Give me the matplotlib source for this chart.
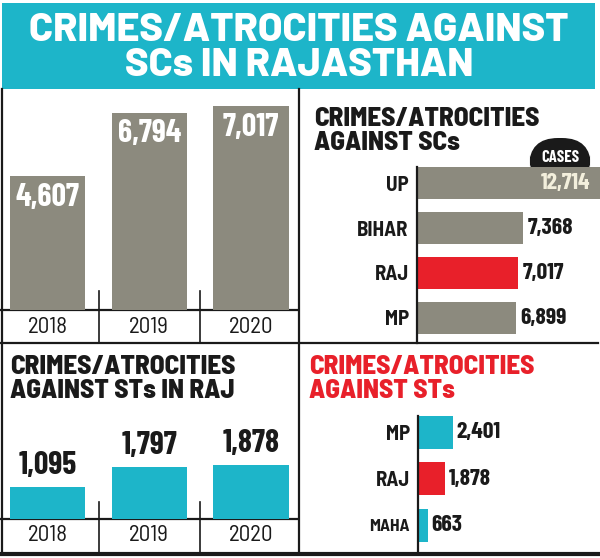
import matplotlib.pyplot as plt
from matplotlib.patches import Rectangle, FancyBboxPatch

# data
years = ['2018', '2019', '2020']
sc_raj = [4607, 6794, 7017]
st_raj = [1095, 1797, 1878]
sc_states = ['UP', 'BIHAR', 'RAJ', 'MP']
sc_cases = [12714, 7368, 7017, 6899]
st_states = ['MP', 'RAJ', 'MAHA']
st_cases = [2401, 1878, 663]

TEAL = '#1db5c9'
GREY = '#8c8a7e'
RED = '#e8202a'
INK = '#1a1a1a'

NUM = ['Barlow Condensed', 'Roboto Condensed', 'DejaVu Sans']
WIDE = ['Barlow Semi Condensed', 'Barlow Condensed', 'DejaVu Sans']
HEAD = ['Barlow', 'Barlow Semi Condensed', 'DejaVu Sans']
plt.rcParams['font.family'] = NUM

W, H = 600, 558
fig = plt.figure(figsize=(6, 5.58), dpi=100)
fig.patch.set_facecolor('white')


def add_ax(x0, y0, x1, y1, z=2):
    ax = fig.add_axes([x0 / W, 1 - y1 / H, (x1 - x0) / W, (y1 - y0) / H], zorder=z)
    ax.set_facecolor('none')
    for s in ax.spines.values():
        s.set_visible(False)
    return ax


# background / frame in pixel coords
bg = fig.add_axes([0, 0, 1, 1], zorder=0)
bg.set_xlim(0, W)
bg.set_ylim(H, 0)
bg.axis('off')

bg.add_patch(Rectangle((2, 3), 593, 86, color=TEAL, lw=0))
bg.text(299, 48, 'CRIMES/ATROCITIES AGAINST\nSCs IN RAJASTHAN', ha='center', va='center',
        color='white', fontsize=28.5, family=HEAD, fontweight=800, linespacing=0.98)

lw = 1.6
bg.plot([2, 2], [89, 553], color=INK, lw=lw)
bg.plot([299, 299], [89, 553], color=INK, lw=lw)
bg.plot([0, 598], [343, 343], color=INK, lw=lw)
bg.plot([0, 298], [310, 310], color=INK, lw=lw)
bg.plot([0, 298], [519, 519], color=INK, lw=lw)
bg.plot([0, 598], [553.5, 553.5], color=INK, lw=3)
for x in (99, 200):
    bg.plot([x, x], [291, 343], color=INK, lw=1.2)
    bg.plot([x, x], [502, 553], color=INK, lw=1.2)

# panel titles
tkw = dict(ha='left', va='top', fontsize=19.5, family=WIDE, fontweight=800, linespacing=0.98)
bg.text(314, 107, 'CRIMES/ATROCITIES\nAGAINST SCs', color=INK, **tkw)
bg.text(10, 355, 'CRIMES/ATROCITIES\nAGAINST STs IN RAJ', color=INK, **tkw)
bg.text(309, 355, 'CRIMES/ATROCITIES\nAGAINST STs', color=RED, **tkw)

# CASES tab
bg.add_patch(FancyBboxPatch((529, 138), 62, 46, boxstyle='round,pad=0,rounding_size=29',
                            color=INK, lw=0))
bg.text(560, 158, 'CASES', ha='center', va='center', color='white', fontsize=12,
        fontweight='bold')

# top left: SCs in Rajasthan by year
ax1 = add_ax(0, 90, 298, 310)
ax1.bar(range(3), sc_raj, width=0.74, color=GREY)
ax1.set_xlim(-0.467, 2.463)
ax1.set_ylim(0, 220 * 34.4)
ax1.set_yticks([])
ax1.set_xticks(range(3), years)
ax1.tick_params(axis='x', length=0, pad=5)
for t in ax1.get_xticklabels():
    t.set(family=WIDE, fontsize=16.5, color=INK)
for i, v in enumerate(sc_raj):
    ax1.annotate(f'{v:,}', (i, v), xytext=(0, -5), textcoords='offset points',
                 ha='center', va='top', color='white', fontsize=23, fontweight='bold')

# bottom left: STs in Rajasthan by year
ax3 = add_ax(0, 343, 298, 519)
ax3.bar(range(3), st_raj, width=0.74, color=TEAL)
ax3.set_xlim(-0.467, 2.463)
ax3.set_ylim(0, 176 * 34.6)
ax3.set_yticks([])
ax3.set_xticks(range(3), years)
ax3.tick_params(axis='x', length=0, pad=4)
for t in ax3.get_xticklabels():
    t.set(family=WIDE, fontsize=16.5, color=INK)
for i, v in enumerate(st_raj):
    ax3.annotate(f'{v:,}', (i, v), xytext=(0, 5), textcoords='offset points',
                 ha='center', va='bottom', color=INK, fontsize=23, fontweight='bold')

# top right: SCs by state
ax2 = add_ax(417, 167, 600, 343, z=3)
ax2.barh(range(4), sc_cases, height=0.71,
         color=[RED if s == 'RAJ' else GREY for s in sc_states])
ax2.set_xlim(0, 183 * 69.4)
ax2.set_ylim(3.556, -0.356)
ax2.set_xticks([])
ax2.set_yticks(range(4), sc_states)
ax2.tick_params(axis='y', length=0, pad=6)
for t in ax2.get_yticklabels():
    t.set(family=WIDE, fontsize=15, fontweight='bold', color=INK)
ax2.spines['left'].set_visible(True)
ax2.spines['left'].set_linewidth(lw)
ax2.spines['left'].set_color(INK)
for i, v in enumerate(sc_cases):
    if i == 0:
        ax2.annotate(f'{v:,}', (v, i), xytext=(-7, 0), textcoords='offset points',
                     ha='right', va='center', color='#f3efdc', fontsize=17,
                     fontweight='bold', annotation_clip=False)
    else:
        ax2.annotate(f'{v:,}', (v, i), xytext=(3, 0), textcoords='offset points',
                     ha='left', va='center', color=INK, fontsize=17, fontweight='bold')

# bottom right: STs by state
ax4 = add_ax(418, 416, 600, 553, z=3)
ax4.barh(range(3), st_cases, height=0.71,
         color=[RED if s == 'RAJ' else TEAL for s in st_states])
ax4.set_xlim(0, 182 * 69.4)
ax4.set_ylim(2.6, -0.344)
ax4.set_xticks([])
ax4.set_yticks(range(3), st_states)
ax4.tick_params(axis='y', length=0, pad=6)
for t in ax4.get_yticklabels():
    t.set(family=WIDE, fontsize=15, fontweight='bold', color=INK)
    if t.get_text() == 'MAHA':
        t.set_fontsize(12.5)
ax4.spines['left'].set_visible(True)
ax4.spines['left'].set_linewidth(lw)
ax4.spines['left'].set_color(INK)
for i, v in enumerate(st_cases):
    ax4.annotate(f'{v:,}', (v, i), xytext=(3, 0), textcoords='offset points',
                 ha='left', va='center', color=INK, fontsize=17, fontweight='bold')

fig.savefig('out.png', dpi=100)
